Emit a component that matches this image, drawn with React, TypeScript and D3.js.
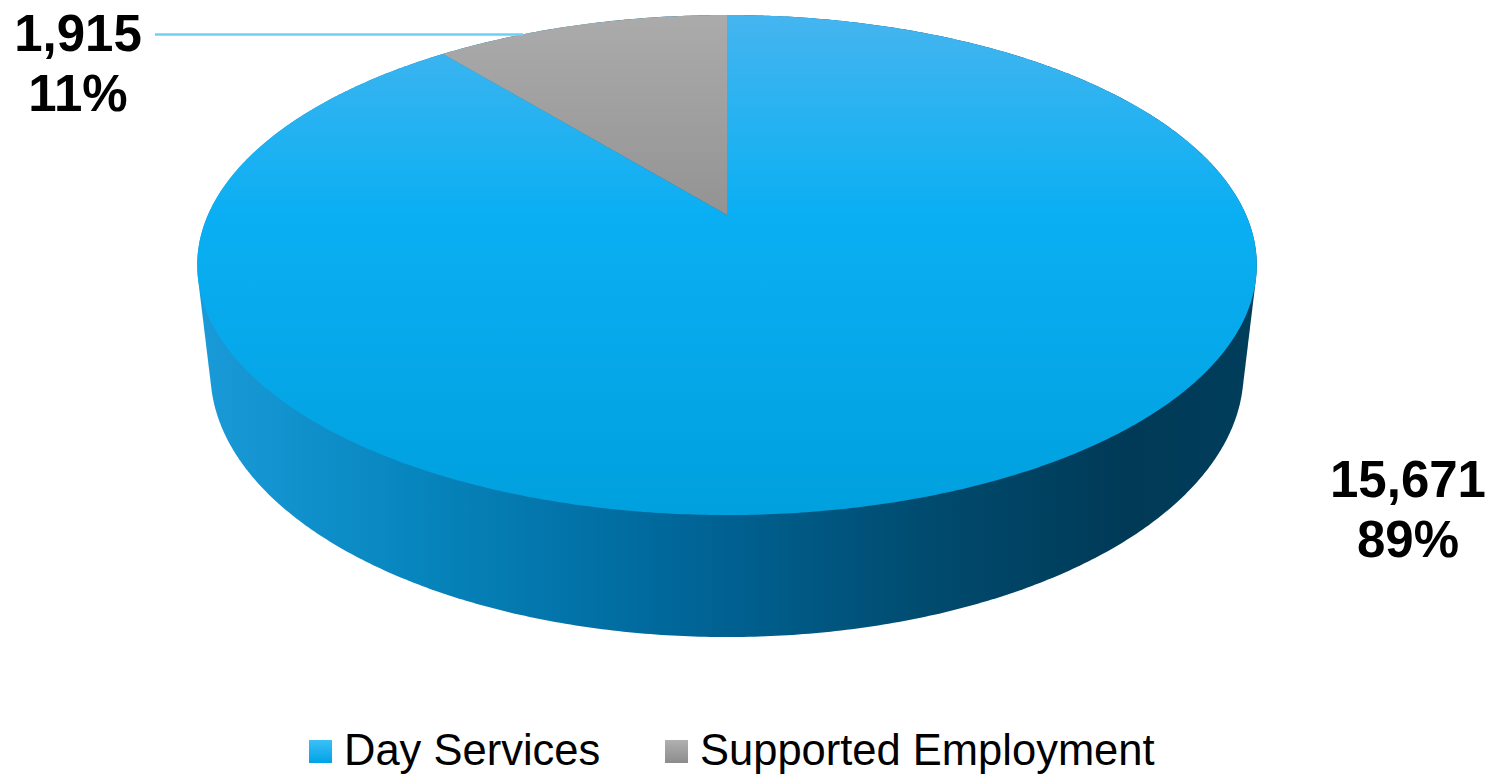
import React from "react";
import * as d3 from "d3";

const categories = ["Day Services", "Supported Employment"];
const values = [15671, 1915];
const valueLabels = ["15,671", "1,915"];

const W = 1496;
const H = 775;

// perspective camera parameters (layout)
const CX = 727;
const CY = 215;
const SIN_PHI = 0.4624;
const COS_PHI = Math.sqrt(1 - SIN_PHI * SIN_PHI);
const L = 4.433;
const F = 2301;
const DEPTH = 0.2345;

function project(u: number, v: number, w: number): [number, number] {
  const depth = L + v * COS_PHI - w * SIN_PHI;
  const yc = v * SIN_PHI + w * COS_PHI;
  return [CX + (F * u) / depth, CY - (F * yc) / depth];
}

function rimPoint(a: number, w: number): [number, number] {
  return project(Math.sin(a), Math.cos(a), w);
}

export default function App() {
  const pie = d3.pie<number>().sort(null).value((d) => d);
  const arcs = pie(values);
  const total = d3.sum(values);

  const N = 720;
  const topPts: [number, number][] = [];
  const botPts: [number, number][] = [];
  for (let i = 0; i < N; i++) {
    const a = (i / N) * Math.PI * 2;
    topPts.push(rimPoint(a, 0));
    botPts.push(rimPoint(a, -DEPTH));
  }
  const hull = d3.polygonHull([...topPts, ...botPts]) || [];
  const closedLine = d3.line().curve(d3.curveLinearClosed);
  const sidePath = closedLine(hull as [number, number][]) || "";

  const center = project(0, 0, 0);
  const slicePaths = arcs.map((arc) => {
    const pts: [number, number][] = [center];
    const steps = Math.max(4, Math.ceil(((arc.endAngle - arc.startAngle) / (Math.PI * 2)) * N));
    for (let i = 0; i <= steps; i++) {
      const a = arc.startAngle + ((arc.endAngle - arc.startAngle) * i) / steps;
      pts.push(rimPoint(a, 0));
    }
    return closedLine(pts) || "";
  });

  const fills = ["url(#topBlue)", "url(#topGray)"];
  const legendFills = ["url(#legBlue)", "url(#legGray)"];

  // label layout
  const labelPos = [
    { x: 1408, y: 497 },
    { x: 78, y: 51 },
  ];
  const legendX = [309, 665];

  return (
    <svg
      width={W}
      height={H}
      style={{ position: "absolute", left: 0, top: 0, background: "#fff" }}
      fontFamily="'Liberation Sans', Arial, sans-serif"
    >
      <defs>
        <linearGradient id="topBlue" gradientUnits="userSpaceOnUse" x1="0" y1="15" x2="0" y2="515">
          <stop offset="0" stopColor="#45b5ef" />
          <stop offset="0.4" stopColor="#0aaff3" />
          <stop offset="1" stopColor="#00a0de" />
        </linearGradient>
        <linearGradient id="topGray" gradientUnits="userSpaceOnUse" x1="0" y1="15" x2="0" y2="217">
          <stop offset="0" stopColor="#ababab" />
          <stop offset="1" stopColor="#939393" />
        </linearGradient>
        <linearGradient id="side" gradientUnits="userSpaceOnUse" x1="197" y1="0" x2="1257" y2="0">
          <stop offset="0" stopColor="#1a9bd9" />
          <stop offset="0.2" stopColor="#0786be" />
          <stop offset="0.45" stopColor="#00679a" />
          <stop offset="0.7" stopColor="#004a6d" />
          <stop offset="0.88" stopColor="#003a57" />
          <stop offset="1" stopColor="#003e5c" />
        </linearGradient>
        <linearGradient id="legBlue" x1="0" y1="0" x2="0" y2="1">
          <stop offset="0" stopColor="#3cc0f6" />
          <stop offset="1" stopColor="#00a2e6" />
        </linearGradient>
        <linearGradient id="legGray" x1="0" y1="0" x2="0" y2="1">
          <stop offset="0" stopColor="#b0b0b0" />
          <stop offset="1" stopColor="#8c8c8c" />
        </linearGradient>
      </defs>

      <path d={sidePath} fill="url(#side)" />
      {slicePaths.map((d, i) => (
        <path key={i} d={d} fill={fills[i]} />
      ))}

      {/* leader line for small slice */}
      <line x1={155} y1={34.5} x2={523} y2={34.5} stroke="#6dd0f7" strokeWidth={2.5} />

      {arcs.map((arc, i) => (
        <text
          key={"lab" + i}
          x={labelPos[i].x}
          y={labelPos[i].y}
          textAnchor="middle"
          fontWeight="bold"
          fontSize={51}
          fill="#000"
        >
          <tspan x={labelPos[i].x}>{valueLabels[i]}</tspan>
          <tspan x={labelPos[i].x} dy={60}>
            {Math.round((arc.data / total) * 100) + "%"}
          </tspan>
        </text>
      ))}

      {categories.map((c, i) => (
        <g key={"leg" + i}>
          <rect x={legendX[i]} y={740} width={23} height={23} fill={legendFills[i]} />
          <text x={legendX[i] + 35} y={765} fontSize={43.5} fill="#000">
            {c}
          </text>
        </g>
      ))}
    </svg>
  );
}
